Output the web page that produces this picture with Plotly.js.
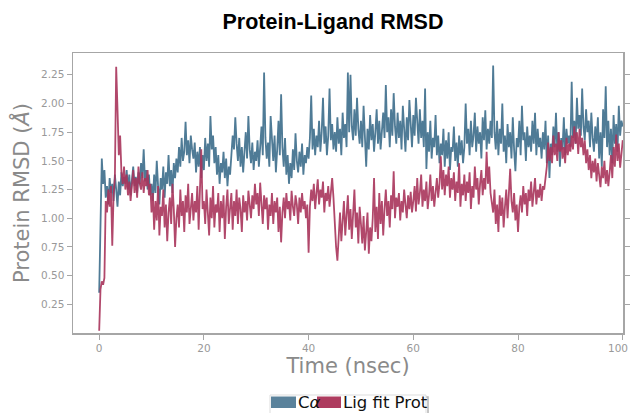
<!DOCTYPE html>
<html>
<head>
<meta charset="utf-8">
<script src="https://cdn.plot.ly/plotly-3.0.1.min.js"></script>
<style>html,body{margin:0;padding:0;background:#fff;}#chart{width:631px;height:413px;}</style>
</head>
<body>
<div id="chart"></div>
<script>
// Time step between frames (nsec)
const timeStep = 0.25;

// C-alpha RMSD (Å), one value per 0.25 ns, t = 0 .. 100
const caRmsd = [].concat(
  [0.35,1.15,1.52,1.30,1.42,1.18,1.28,1.12,1.35,1.22,1.30,1.15,1.38,1.25,1.10,1.32,1.20,1.40,1.28,1.36],
  [1.30,1.42,1.25,1.38,1.20,1.33,1.45,1.28,1.36,1.22,1.40,1.30,1.48,1.35,1.60,1.32,1.42,1.25,1.38,1.20],
  [1.30,1.15,1.38,1.22,1.50,1.28,1.12,1.35,1.25,1.45,1.18,1.40,1.30,1.55,1.28,1.42,1.22,1.48,1.35,1.52],
  [1.40,1.62,1.45,1.70,1.50,1.58,1.84,1.55,1.68,1.48,1.72,1.60,1.52,1.66,1.40,1.58,1.45,1.62,1.35,1.55],
  [1.42,1.70,1.50,1.65,1.45,1.89,1.60,1.72,1.48,1.62,1.38,1.55,1.30,1.48,1.40,1.58,1.35,1.52,1.28,1.45],
  [1.38,1.55,1.72,1.60,1.88,1.65,1.50,1.70,1.45,1.62,1.40,1.58,1.75,1.52,1.89,1.60,1.48,1.66,1.42,1.58],
  [1.50,1.68,1.45,1.62,1.80,1.55,2.27,1.70,1.52,1.66,1.45,1.89,1.62,1.50,1.72,1.40,1.60,1.85,1.55,2.08],
  [1.62,1.45,1.70,1.38,1.55,1.30,1.48,1.35,1.60,1.42,1.74,1.50,1.40,1.58,1.45,1.65,1.38,1.55,1.48,1.62],
  [1.52,1.70,2.07,1.60,1.78,1.55,1.72,1.62,1.85,1.58,1.75,2.05,1.65,1.80,1.55,1.72,2.13,1.68,1.82,1.60],
  [1.75,1.58,1.88,1.65,1.78,1.55,1.92,1.70,1.82,1.62,2.27,1.75,2.25,1.80,1.68,1.95,1.72,2.05,1.78,1.65],
  [1.85,1.62,1.98,1.70,1.45,1.78,1.60,1.90,1.68,1.82,1.58,1.75,1.95,1.65,1.85,1.60,1.78,1.92,1.70,2.16],
  [1.75,1.88,1.62,1.95,1.72,2.09,1.80,1.65,1.92,1.70,1.85,1.60,1.98,1.75,1.58,1.88,1.68,2.03,1.78,1.62],
  [1.90,1.72,2.05,1.78,1.65,1.95,1.70,1.85,1.62,2.13,1.43,1.75,1.58,1.85,1.52,1.70,1.62,1.90,1.55,1.72],
  [1.48,1.65,1.55,1.78,1.45,1.68,1.52,1.75,1.42,1.62,1.58,1.80,1.50,1.66,1.45,1.72,1.55,1.68,1.48,1.62],
  [2.00,1.65,1.78,1.55,1.85,1.62,1.72,1.92,1.58,1.80,1.65,1.75,1.52,1.88,1.68,1.94,1.60,1.78,1.65,1.85],
  [1.70,2.33,1.75,1.60,1.85,1.55,1.78,1.65,2.00,1.58,1.72,1.48,1.82,1.62,1.75,1.52,1.88,1.60,1.41,1.70],
  [1.62,1.85,1.55,1.98,1.68,1.75,1.50,1.80,1.62,1.72,1.58,1.85,1.65,1.92,1.55,1.78,1.62,1.70,1.52,1.75],
  [1.60,1.85,1.48,1.72,1.35,1.65,1.55,1.80,1.62,1.92,1.58,1.75,1.45,1.70,1.60,1.88,1.55,1.78,1.65,1.72],
  [1.62,2.19,1.70,1.85,1.65,2.05,1.78,1.90,1.72,2.13,1.80,1.68,1.95,1.75,1.85,1.62,1.92,1.70,1.58,1.80],
  [1.65,1.88,1.52,1.75,1.45,1.95,1.70,2.15,1.62,1.85,1.55,1.78,1.48,1.90,1.65,1.82,1.58,1.98,1.72,1.85],
  [1.80]
);

// Ligand RMSD fit on protein (Å), one value per 0.25 ns, t = 0 .. 100
const ligRmsd = [].concat(
  [0.02,0.38,0.45,0.42,0.48,1.15,1.05,1.25,1.10,1.28,0.76,1.20,1.35,2.32,1.95,1.55,1.72,1.40,1.30,1.45],
  [1.25,1.38,1.20,1.32,1.15,1.28,1.42,1.22,1.35,1.18,1.45,1.30,1.25,1.40,1.22,1.35,1.28,1.42,1.20,1.30],
  [1.05,1.22,0.90,1.15,0.98,1.28,0.85,1.10,1.02,1.25,0.92,1.12,0.80,1.05,1.18,0.95,1.30,1.08,0.75,1.00],
  [1.12,0.92,1.25,1.02,1.15,0.88,1.20,1.05,1.30,0.95,1.10,1.22,0.98,1.15,1.05,1.28,0.90,1.18,1.60,1.08],
  [1.15,0.95,1.25,1.05,0.85,1.18,1.00,1.28,0.92,1.12,1.05,1.22,0.88,1.15,1.00,1.20,0.82,1.10,1.25,0.95],
  [1.08,1.22,0.90,1.15,1.02,1.25,0.95,1.18,1.08,0.88,1.20,1.05,1.15,0.98,1.24,1.10,1.00,1.20,1.08,1.30],
  [1.12,1.22,1.02,1.31,1.15,0.95,1.20,1.08,1.18,0.90,1.12,1.02,1.22,0.95,1.15,1.05,1.18,0.88,1.10,0.79],
  [1.05,1.18,1.00,1.22,1.08,1.15,0.98,1.24,1.10,1.02,1.20,1.12,0.95,1.18,1.05,1.22,1.08,1.15,1.00,1.12],
  [0.70,1.10,1.25,1.15,1.30,1.08,1.22,1.34,1.12,1.25,1.18,1.32,1.05,1.22,1.15,1.28,1.10,1.24,1.35,1.18],
  [0.95,0.75,0.63,0.88,1.05,0.80,0.98,1.15,0.85,1.02,1.20,0.90,1.08,0.82,1.00,1.25,0.92,1.05,0.78,1.10],
  [0.95,0.78,1.02,0.72,0.88,1.05,0.69,0.92,0.80,1.00,1.35,0.88,1.10,0.82,1.22,0.95,1.15,0.85,1.08,1.25],
  [1.02,1.15,0.92,1.20,1.08,1.41,1.00,1.18,1.10,1.22,0.98,1.15,1.05,1.25,1.12,1.00,1.20,1.08,1.23,1.05],
  [1.15,1.28,1.06,1.35,1.12,1.22,1.38,1.10,1.25,1.15,1.32,1.08,1.20,1.38,1.15,1.28,1.10,1.25,1.35,1.18],
  [1.30,1.54,1.25,1.42,1.20,1.38,1.28,1.45,1.18,1.35,1.25,1.40,1.15,1.32,1.22,1.48,1.10,1.30,1.20,1.38],
  [1.15,1.32,1.22,1.40,1.08,1.28,1.18,1.45,1.25,1.35,1.12,1.30,1.42,1.20,1.35,1.25,1.58,1.30,1.45,1.22],
  [1.15,1.05,1.25,0.95,1.12,0.88,1.20,1.02,1.18,0.92,1.10,1.25,1.00,1.30,1.43,1.15,1.05,1.22,0.98,1.12],
  [0.88,1.10,1.20,1.05,1.28,1.12,1.22,1.02,1.25,1.15,1.32,1.10,1.20,1.35,1.12,1.25,1.18,1.30,1.15,1.28],
  [1.25,1.38,1.45,1.66,1.50,1.62,1.48,1.72,1.55,1.65,1.50,1.75,1.58,1.68,1.52,1.62,1.48,1.70,1.55,1.65],
  [1.58,1.72,1.60,1.80,1.65,1.75,1.56,1.78,1.62,1.70,1.55,1.68,1.48,1.60,1.42,1.55,1.35,1.50,1.40,1.52],
  [1.32,1.48,1.38,1.27,1.45,1.35,1.50,1.30,1.42,1.28,1.40,1.55,1.35,1.62,1.45,1.73,1.50,1.65,1.44,1.58],
  [1.68]
);

const seriesNames = ['C<i>α</i>', 'Lig fit Prot'];
const xTickVals = [0, 20, 40, 60, 80, 100];
const yTickVals = [0.25, 0.50, 0.75, 1.00, 1.25, 1.50, 1.75, 2.00, 2.25];

const timeCa = caRmsd.map((_, i) => i * timeStep);
const timeLig = ligRmsd.map((_, i) => i * timeStep);

const blue = '#4f7b96';
const red = '#a9345b';
const FONT = 'DejaVu Sans, Verdana, sans-serif';

const traces = [
  {x: timeCa, y: caRmsd, type: 'scatter', mode: 'lines', name: seriesNames[0],
   line: {color: blue, width: 1.8}, showlegend: false, hoverinfo: 'x+y'},
  {x: timeLig, y: ligRmsd, type: 'scatter', mode: 'lines', name: seriesNames[1],
   line: {color: red, width: 1.8}, opacity: 0.9, showlegend: false, hoverinfo: 'x+y'}
];

// plot area in pixels: left 73, right 623, top 53, bottom 333
const L = 73, R = 623, T = 53, B = 333;
const px = v => (v - L) / (R - L);
const py = v => (B - v) / (B - T);

const shapes = [
  // legend frame
  {type: 'rect', xref: 'paper', yref: 'paper', x0: px(272), x1: px(428), y0: py(397), y1: py(416),
   line: {color: '#b5b5b5', width: 1.5}, fillcolor: 'rgba(0,0,0,0)', layer: 'above'},
  {type: 'rect', xref: 'paper', yref: 'paper', x0: px(270), x1: px(426), y0: py(395), y1: py(414),
   line: {color: '#dddddd', width: 1}, fillcolor: '#ffffff', layer: 'above'},
  // patches
  {type: 'rect', xref: 'paper', yref: 'paper', x0: px(271), x1: px(296), y0: py(396.5), y1: py(408),
   line: {width: 0}, fillcolor: '#5a829b', layer: 'above'},
  {type: 'rect', xref: 'paper', yref: 'paper', x0: px(317), x1: px(341), y0: py(396.5), y1: py(408),
   line: {width: 0}, fillcolor: '#ae3c5f', layer: 'above'}
];

const lastTick = xTickVals[xTickVals.length - 1];
const annotations = [
  {text: seriesNames[0], xref: 'paper', yref: 'paper', x: px(296), y: py(402.5), xanchor: 'left', yanchor: 'middle',
   showarrow: false, font: {family: FONT, size: 16.5, color: '#111'}},
  {text: seriesNames[1], xref: 'paper', yref: 'paper', x: px(340.5), y: py(402.5), xanchor: 'left', yanchor: 'middle',
   showarrow: false, font: {family: FONT, size: 16.5, color: '#111'}},
  // last x tick label, kept inside the page edge
  {text: String(lastTick), xref: 'paper', yref: 'paper', x: px(630), y: py(348), xanchor: 'right', yanchor: 'middle',
   showarrow: false, font: {family: FONT, size: 10.5, color: '#999'}}
];

const layout = {
  width: 631, height: 413,
  margin: {l: L, r: 631 - R, t: T, b: 413 - B, pad: 0},
  paper_bgcolor: '#ffffff', plot_bgcolor: '#ffffff',
  showlegend: false,
  title: {text: '<b>Protein-Ligand RMSD</b>', x: 333 / 631, xref: 'container', xanchor: 'center',
          y: 1 - 21 / 413, yref: 'container', yanchor: 'middle',
          font: {family: 'Liberation Sans, Arial, sans-serif', size: 21.5, color: '#000'}},
  xaxis: {range: [-5, 100.05], tickvals: xTickVals, ticktext: xTickVals.map(v => v === lastTick ? '' : String(v)),
          ticklabeloverflow: 'allow',
          showgrid: false, zeroline: false, showline: true, mirror: true, linecolor: '#a6a6a6', linewidth: 1.5,
          ticks: 'outside', ticklen: 5, tickwidth: 1, tickcolor: '#a6a6a6',
          tickfont: {family: FONT, size: 10.5, color: '#999'},
          title: {text: 'Time (nsec)', font: {family: FONT, size: 21, color: '#8a8a8a'}, standoff: 5}},
  yaxis: {range: [0, 2.44], tickvals: yTickVals, ticktext: yTickVals.map(v => v.toFixed(2)),
          showgrid: false, zeroline: false, showline: true, mirror: 'ticks', linecolor: '#a6a6a6', linewidth: 1.5,
          ticks: 'outside', ticklen: 5, tickwidth: 1, tickcolor: '#a6a6a6',
          tickfont: {family: FONT, size: 10.5, color: '#999'},
          title: {text: 'Protein RMSD (<i>Å</i>)', font: {family: FONT, size: 21, color: '#8a8a8a'}, standoff: 5}},
  shapes: shapes,
  annotations: annotations
};

Plotly.newPlot('chart', traces, layout, {displayModeBar: false, staticPlot: true});
</script>
</body>
</html>
